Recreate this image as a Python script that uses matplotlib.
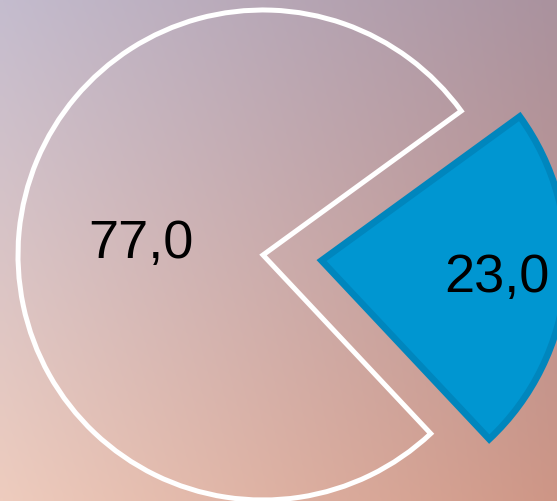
import numpy as np
import matplotlib as mpl
mpl.use('Agg')
import matplotlib.pyplot as plt

# data
values = [77.0, 23.0]
labels = ["77,0", "23,0"]
explode = [0.0, 0.24]

# style
face_colors = ["none", "#0096d1"]
edge_colors = ["white", "#0086bd"]
edge_widths = [3.6, 4.8]
label_r = [0.5, 0.72]

fig = plt.figure(figsize=(5.57, 5.02), dpi=100)

# background gradient (bilinear between four corners)
bg = fig.add_axes([0, 0, 1, 1])
tl = np.array([196, 188, 206]) / 255
tr = np.array([170, 146, 158]) / 255
bl = np.array([238, 204, 190]) / 255
br = np.array([206, 150, 134]) / 255
ny, nx = 100, 100
yy, xx = np.mgrid[0:1:ny * 1j, 0:1:nx * 1j]
img = (tl * ((1 - xx) * (1 - yy))[..., None] + tr * (xx * (1 - yy))[..., None]
       + bl * ((1 - xx) * yy)[..., None] + br * (xx * yy)[..., None])
bg.imshow(img, aspect='auto', interpolation='bilinear', extent=[0, 1, 1, 0])
bg.axis('off')

ax = fig.add_axes([0, 0, 1, 1])
ax.patch.set_alpha(0)
wedges, texts = ax.pie(values, explode=explode, startangle=36, counterclock=True,
                       labels=None, radius=1.0)
for i, w in enumerate(wedges):
    w.set_facecolor(face_colors[i])
    w.set_edgecolor(edge_colors[i])
    w.set_linewidth(edge_widths[i])
    w.set_joinstyle('miter')
    mid = np.deg2rad((w.theta1 + w.theta2) / 2)
    cx, cy = w.center
    ax.text(cx + label_r[i] * np.cos(mid), cy + label_r[i] * np.sin(mid), labels[i],
            ha='center', va='center', fontsize=39,
            family=['Liberation Sans Narrow', 'Liberation Sans', 'DejaVu Sans'],
            color='black')

ax.set_xlim(-263 / 245, (557 - 263) / 245)
ax.set_ylim(-(502 - 256) / 245, 256 / 245)
ax.set_aspect('auto')
ax.axis('off')

plt.savefig("out.png", dpi=100)
